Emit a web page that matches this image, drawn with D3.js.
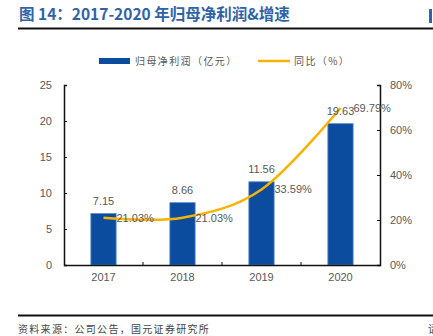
<!DOCTYPE html>
<html>
<head>
<meta charset="utf-8">
<script src="https://cdn.jsdelivr.net/npm/d3@7"></script>
<style>
  body { margin: 0; background: #fff; }
  svg { display: block; font-family: "Liberation Sans", Arial, sans-serif; }
</style>
</head>
<body>
<div id="chart"></div>
<script>
// 年份与数据
const years = ["2017", "2018", "2019", "2020"];
const profit = [7.15, 8.66, 11.56, 19.63];      // 归母净利润（亿元）
const growth = [21.03, 21.03, 33.59, 69.79];    // 同比（%）
const leftTicks = [0, 5, 10, 15, 20, 25];
const rightTicks = [0, 20, 40, 60, 80];

const width = 433, height = 336;
const margin = { top: 85, right: 53, bottom: 71, left: 64 };
const innerW = width - margin.left - margin.right;
const innerH = height - margin.top - margin.bottom;

const svg = d3.select("#chart").append("svg")
    .attr("width", width)
    .attr("height", height);

// 标题
svg.append("text")
    .attr("x", 19).attr("y", 20)
    .attr("fill", "#2f63a8")
    .attr("font-size", 15.5)
    .attr("font-weight", "bold")
    .attr("font-family", "'Noto Sans CJK SC', sans-serif")
    .text("图 14：2017-2020 年归母净利润&增速");
svg.append("rect")
    .attr("x", 429).attr("y", 9).attr("width", 3).attr("height", 14)
    .attr("fill", "#2f63a8");
svg.append("line")
    .attr("x1", 18).attr("x2", 433).attr("y1", 28.5).attr("y2", 28.5)
    .attr("stroke", "#111").attr("stroke-width", 2);

const g = svg.append("g")
    .attr("transform", `translate(${margin.left},${margin.top})`);

// 比例尺
const x = d3.scaleBand().domain(years).range([0, innerW]);
const y = d3.scaleLinear().domain([0, 25]).range([innerH, 0]);
const y2 = d3.scaleLinear().domain([0, 80]).range([innerH, 0]);
const barW = x.bandwidth() * 0.32;

// 柱子
g.selectAll(".bar")
    .data(profit)
    .enter().append("rect")
    .attr("class", "bar")
    .attr("x", (d, i) => x(years[i]) + x.bandwidth() / 2 - barW / 2)
    .attr("y", d => y(d))
    .attr("width", barW)
    .attr("height", d => innerH - y(d))
    .attr("fill", "#0b4c9f")
    .attr("stroke", "#5b8ccb")
    .attr("stroke-width", 0.8);

// 坐标轴
const axisColor = "#111";
const labelColor = "#595959";

const xAxis = g.append("g")
    .attr("transform", `translate(0,${innerH})`)
    .call(d3.axisBottom(x).tickSize(0).tickPadding(8));
xAxis.select(".domain").attr("stroke", axisColor).attr("stroke-width", 1.5);
xAxis.selectAll("text").attr("fill", labelColor).attr("font-size", 11);
// 类别之间的刻度线
g.selectAll(".xtick")
    .data(years.slice(1))
    .enter().append("line")
    .attr("x1", d => x(d)).attr("x2", d => x(d))
    .attr("y1", innerH).attr("y2", innerH - 3)
    .attr("stroke", axisColor);

const yAxis = g.append("g")
    .call(d3.axisLeft(y).tickValues(leftTicks).tickSize(-3).tickPadding(12));
yAxis.select(".domain").attr("stroke", axisColor).attr("stroke-width", 1.5);
yAxis.selectAll("line").attr("stroke", axisColor);
yAxis.selectAll("text").attr("fill", labelColor).attr("font-size", 11);

const y2Axis = g.append("g")
    .attr("transform", `translate(${innerW},0)`)
    .call(d3.axisRight(y2).tickValues(rightTicks).tickSize(-3).tickPadding(10)
        .tickFormat(d => d + "%"));
y2Axis.select(".domain").attr("stroke", axisColor).attr("stroke-width", 1.5);
y2Axis.selectAll("line").attr("stroke", axisColor);
y2Axis.selectAll("text").attr("fill", labelColor).attr("font-size", 11);

// 同比曲线
const line = d3.line()
    .x((d, i) => x(years[i]) + x.bandwidth() / 2)
    .y(d => y2(d))
    .curve(d3.curveCardinal.tension(0));

g.append("path")
    .datum(growth)
    .attr("fill", "none")
    .attr("stroke", "#f6b400")
    .attr("stroke-width", 2.5)
    .attr("d", line);

// 数据标签
g.selectAll(".barlabel")
    .data(profit)
    .enter().append("text")
    .attr("x", (d, i) => x(years[i]) + x.bandwidth() / 2)
    .attr("y", d => y(d) - 9)
    .attr("text-anchor", "middle")
    .attr("fill", labelColor)
    .attr("font-size", 11)
    .text(d => d.toFixed(2));

g.selectAll(".linelabel")
    .data(growth)
    .enter().append("text")
    .attr("x", (d, i) => x(years[i]) + x.bandwidth() / 2 + 13)
    .attr("y", d => y2(d) + 4)
    .attr("fill", labelColor)
    .attr("font-size", 11)
    .text(d => d.toFixed(2) + "%");

// 图例
const legend = svg.append("g")
    .attr("font-family", "'Noto Sans CJK SC', sans-serif")
    .attr("font-size", 10)
    .attr("letter-spacing", 1.4)
    .attr("fill", labelColor);
legend.append("rect")
    .attr("x", 99).attr("y", 58).attr("width", 31).attr("height", 6)
    .attr("fill", "#0b4c9f");
legend.append("text").attr("x", 135).attr("y", 65).text("归母净利润（亿元）");
legend.append("line")
    .attr("x1", 258).attr("x2", 290).attr("y1", 61).attr("y2", 61)
    .attr("stroke", "#f6b400").attr("stroke-width", 2.5);
legend.append("text").attr("x", 294).attr("y", 65).text("同比（%）");

// 底部来源
svg.append("line")
    .attr("x1", 18).attr("x2", 433).attr("y1", 315.5).attr("y2", 315.5)
    .attr("stroke", "#111").attr("stroke-width", 2);
svg.append("text")
    .attr("x", 18).attr("y", 333)
    .attr("font-family", "'Noto Sans CJK SC', sans-serif")
    .attr("font-size", 10)
    .attr("letter-spacing", 1.3)
    .attr("fill", "#444")
    .text("资料来源：公司公告，国元证券研究所");
svg.append("text")
    .attr("x", 428).attr("y", 333)
    .attr("font-family", "'Noto Sans CJK SC', sans-serif")
    .attr("font-size", 10)
    .attr("fill", "#444")
    .text("请");
</script>
</body>
</html>
